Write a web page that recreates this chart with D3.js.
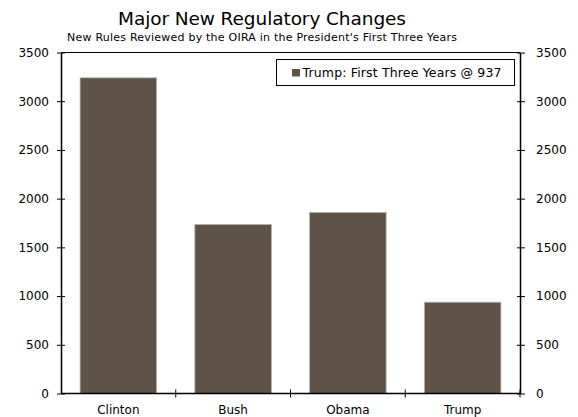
<!DOCTYPE html>
<html><head><meta charset="utf-8">
<script src="https://cdn.jsdelivr.net/npm/d3@7"></script>
<style>body{margin:0;background:#fff;} text{font-family:"DejaVu Sans",Verdana,sans-serif;fill:#000;}</style>
</head><body>
<svg id="c" width="578" height="417"></svg>
<script>
const categories = ["Clinton","Bush","Obama","Trump"];
const values = [3240, 1735, 1858, 937];
const yTicks = [0,500,1000,1500,2000,2500,3000,3500];
const title = "Major New Regulatory Changes";
const subtitle = "New Rules Reviewed by the OIRA in the President's First Three Years";
const legendLabel = "Trump: First Three Years @ 937";

const svg = d3.select("#c");
const L=61, R=520, T=52.5, B=393.5;
const x = d3.scaleBand().domain(categories).range([L,R]).paddingInner(0.333).paddingOuter(0.1665);
const y = d3.scaleLinear().domain([0,3500]).range([B,T]);
const barColor = "#5e5346";

svg.append("text").attr("x",262).attr("y",25).attr("text-anchor","middle").attr("font-size",18.5)
  .attr("textLength",288).attr("lengthAdjust","spacing").text(title);
svg.append("text").attr("x",262).attr("y",41).attr("text-anchor","middle").attr("font-size",11)
  .attr("textLength",390).attr("lengthAdjust","spacing").text(subtitle);

svg.selectAll("rect.bar").data(values).enter().append("rect")
  .attr("x",(d,i)=>x(categories[i])).attr("width",x.bandwidth())
  .attr("y",d=>y(d)).attr("height",d=>y(0)-y(d))
  .attr("fill",barColor).attr("stroke","#b8b1a9").attr("stroke-width",0.8);

svg.append("line").attr("x1",L).attr("x2",R).attr("y1",T).attr("y2",T).attr("stroke","#000").attr("stroke-width",1);

const fmt = d3.format("d");
const la = svg.append("g").attr("transform",`translate(${L},0)`)
  .call(d3.axisLeft(y).tickValues(yTicks).tickFormat(fmt).tickSize(4).tickSizeOuter(0).tickPadding(8));
la.selectAll(".tick line").attr("x2",-4).attr("x1",4);
const ra = svg.append("g").attr("transform",`translate(${R},0)`)
  .call(d3.axisRight(y).tickValues(yTicks).tickFormat(fmt).tickSize(4).tickSizeOuter(0).tickPadding(12));
ra.selectAll(".tick line").attr("x2",5).attr("x1",-3);
[la,ra].forEach(g=>{g.select(".domain").attr("stroke","#000").attr("stroke-width",1.5);
  g.selectAll("text").attr("font-size",12);});

const xb = d3.scaleLinear().domain([0,categories.length]).range([L,R]);
const xa = svg.append("g").attr("transform",`translate(0,${B})`);
xa.append("line").attr("x1",L).attr("x2",R).attr("stroke","#000").attr("stroke-width",1.5);
xa.selectAll("line.t").data(d3.range(1,categories.length+1)).enter().append("line")
  .attr("x1",d=>xb(d)).attr("x2",d=>xb(d)).attr("y1",-4).attr("y2",4).attr("stroke","#000");
xa.selectAll("text").data(categories).enter().append("text")
  .attr("x",d=>x(d)+x.bandwidth()/2).attr("y",20).attr("text-anchor","middle").attr("font-size",12).text(d=>d);

const lg = svg.append("g");
lg.append("rect").attr("x",276.5).attr("y",59.5).attr("width",238).attr("height",26).attr("fill","#fff").attr("stroke","#000");
lg.append("rect").attr("x",292).attr("y",69).attr("width",8).attr("height",7.5).attr("fill",barColor);
lg.append("text").attr("x",302.5).attr("y",77).attr("font-size",12.5)
  .attr("textLength",199).attr("lengthAdjust","spacing").text(legendLabel);
</script>
</body></html>
